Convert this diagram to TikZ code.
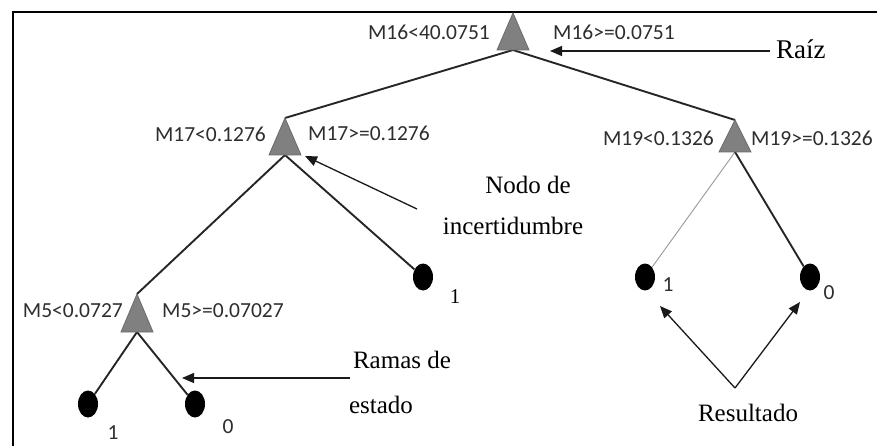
\documentclass[tikz,border=0pt]{standalone}
\usepackage{fontspec}
\setmainfont{Liberation Serif}
\newfontfamily\labelfont{Carlito}
\usetikzlibrary{arrows.meta,shapes.geometric,calc}

\begin{document}
\begin{tikzpicture}[x=1pt,y=-1pt,
  branch/.style={line width=1.9pt, draw=black!85},
  thinbranch/.style={line width=0.9pt, draw=black!40},
  pointer/.style={line width=1.3pt, draw=black!90, -{Triangle[length=12pt,width=10pt]}},
  leaf/.style={ellipse, fill=black, minimum width=20pt, minimum height=27pt, inner sep=0pt},
  cond/.style={font=\labelfont\fontsize{21.5}{24}\selectfont, text=black!82, inner sep=0pt},
  caption/.style={font=\fontsize{25}{28}\selectfont, inner sep=0pt},
  tri/.style={fill=black!50, draw=black!58, line width=0.8pt}]

% canvas and frame
\useasboundingbox (0,0) rectangle (877,446);
\fill[white] (0,0) rectangle (877,446);
\draw[line width=2pt] (13,446) -- (13,12) -- (877,12);

% split nodes: base centre and apex of each triangle
\coordinate (r)    at (513,50);   \coordinate (rtop) at (513,13);
\coordinate (a)    at (285,155);  \coordinate (atop) at (285,118);
\coordinate (b)    at (735,152);  \coordinate (btop) at (735,120);
\coordinate (c)    at (137,332);  \coordinate (ctop) at (137,294);

% leaves
\node[leaf] (la)  at (423,277) {};
\node[leaf] (lb1) at (645,277) {};
\node[leaf] (lb0) at (810,277) {};
\node[leaf] (lc1) at (88,404)  {};
\node[leaf] (lc0) at (195,404) {};

% branches
\draw[branch] (r) -- (atop);
\draw[branch] (r) -- (btop);
\draw[branch] (a) -- (ctop);
\draw[branch] (a) -- (la);
\draw[thinbranch] (b) -- (lb1);
\draw[branch] (b) -- (lb0);
\draw[branch] (c) -- (lc1);
\draw[branch] (c) -- (lc0);

% triangles
\foreach \n/\t in {r/rtop, a/atop, b/btop, c/ctop}
  \filldraw[tri] ($(\n)+(-16,0)$) -- (\t) -- ($(\n)+(16,0)$) -- cycle;

% split conditions
\node[cond, anchor=east] (l16) at (490,32)  {M16<40.0751};
\node[cond, anchor=west] (r16) at (553,32)  {M16>=0.0751};
\node[cond, anchor=east] (l17) at (266,134) {M17<0.1276};
\node[cond, anchor=west] (r17) at (308,133) {M17>=0.1276};
\node[cond, anchor=east] (l19) at (714,138) {M19<0.1326};
\node[cond, anchor=west] (r19) at (751,138) {M19>=0.1326};
\node[cond, anchor=east] (l5)  at (123,311) {M5<0.0727};
\node[cond, anchor=west] (r5)  at (162,311) {M5>=0.07027};

% leaf values
\node[font=\fontsize{21}{24}\selectfont, inner sep=0pt] (va) at (455,297) {1};
\node[cond] (vb1) at (668,285) {1};
\node[cond] (vb0) at (829,293) {0};
\node[cond] (vc1) at (113,433) {1};
\node[cond] (vc0) at (228,427) {0};

% callouts
\node[caption, anchor=west, font=\fontsize{27}{30}\selectfont] (raiz) at (776,49) {Raíz};
\coordinate (raizarrow) at (550,51);
\draw[pointer] (raiz.west) ++(-6,2) coordinate (raizstart) -- (raizarrow);

\node[caption] (nodo1) at (528,185) {Nodo de};
\node[caption] (nodo2) at (513,226) {incertidumbre};
\coordinate (nodostart) at (417,209);
\coordinate (nodoend)   at (305,156);
\draw[pointer] (nodostart) -- (nodoend);

\node[caption] (ramas1) at (402,360) {Ramas de};
\node[caption] (ramas2) at (381,405) {estado};
\coordinate (ramasstart) at (350,378);
\coordinate (ramasend)   at (182,378);
\draw[pointer] (ramasstart) -- (ramasend);

\node[caption] (res) at (748,413) {Resultado};
\coordinate (resfork) at (735,388);
\coordinate (res1) at (660,306);
\coordinate (res0) at (800,302);
\draw[pointer] (resfork) -- (res1);
\draw[pointer] (resfork) -- (res0);
\end{tikzpicture}
\end{document}
